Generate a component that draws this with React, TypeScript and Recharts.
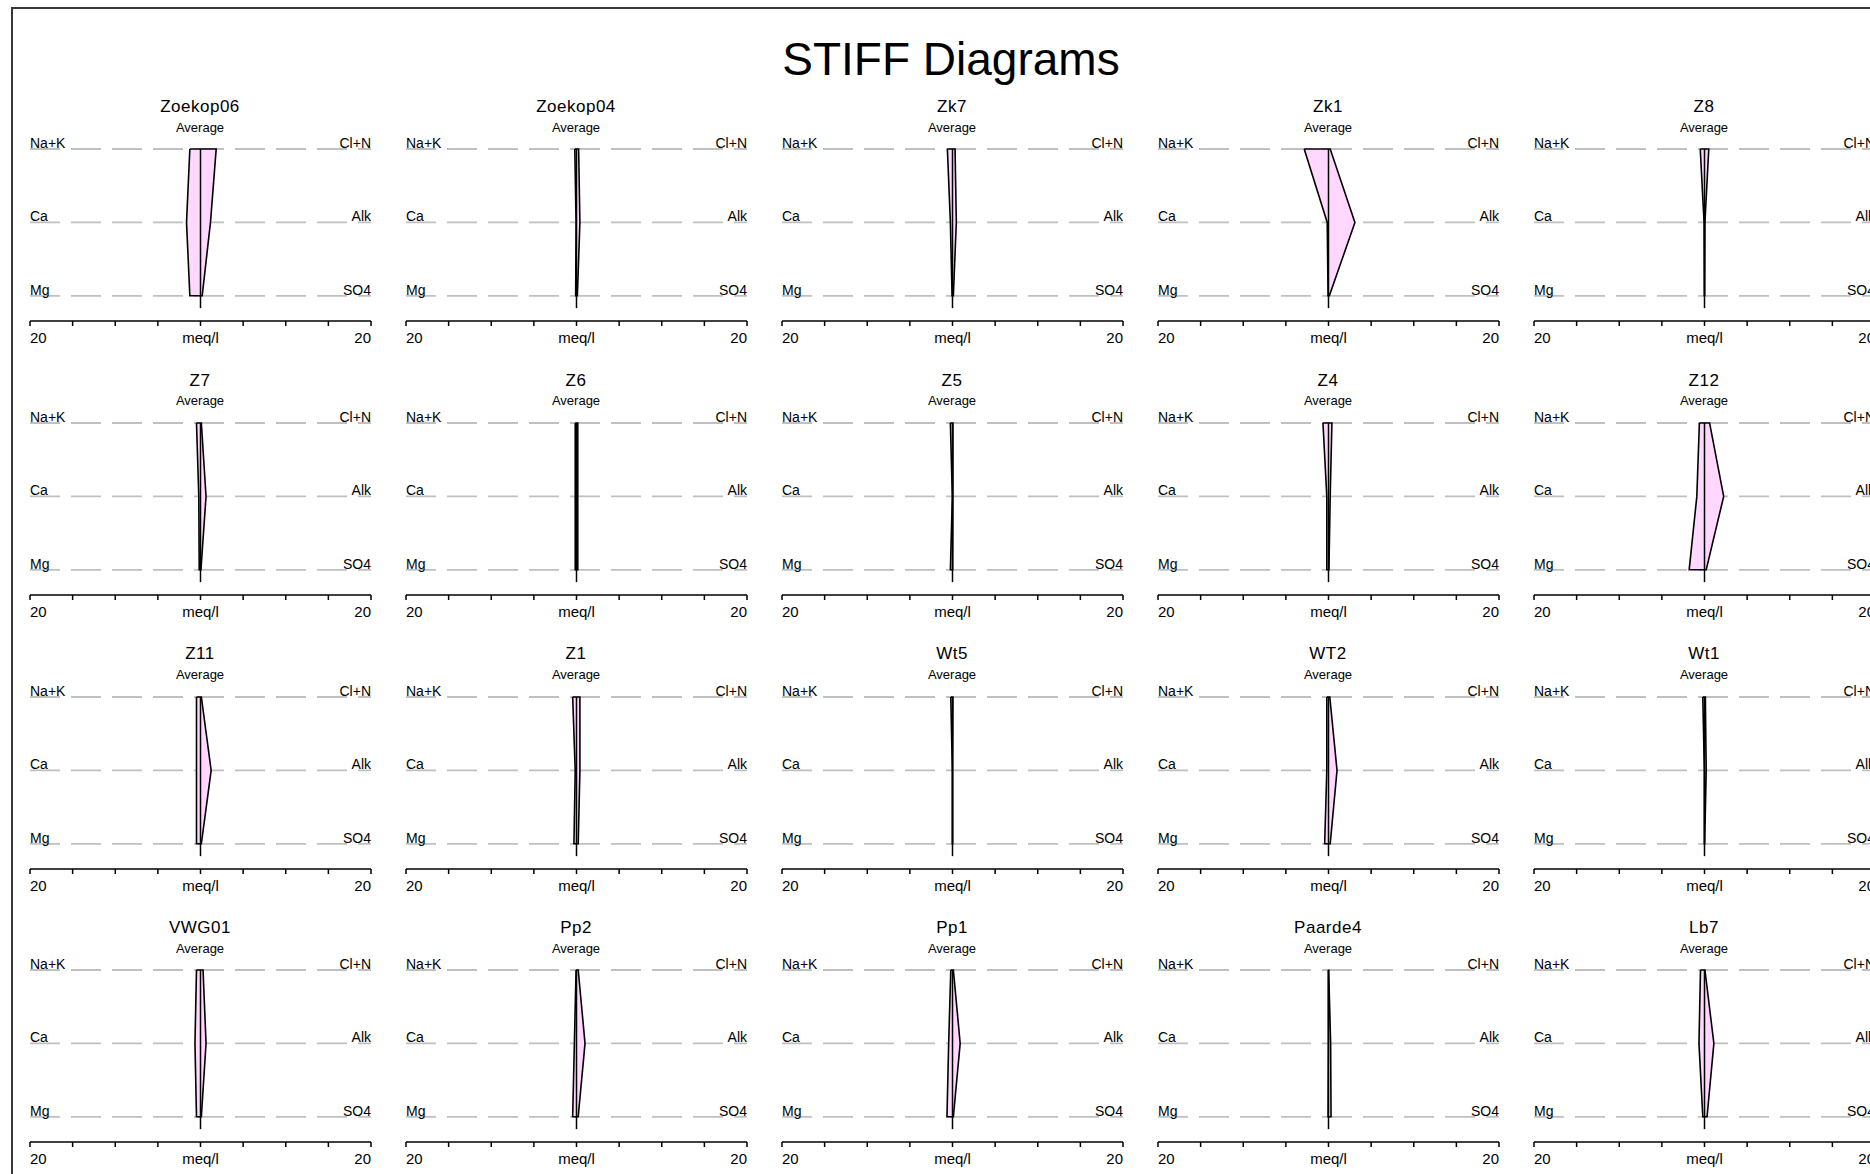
import React from 'react';
import { ComposedChart, Area, Line, XAxis, YAxis, CartesianGrid } from 'recharts';

// ---------- data ----------
const chartTitle = 'STIFF Diagrams';
const subtitle = 'Average';
const sampleNames = [
  'Zoekop06', 'Zoekop04', 'Zk7', 'Zk1', 'Z8',
  'Z7', 'Z6', 'Z5', 'Z4', 'Z12',
  'Z11', 'Z1', 'Wt5', 'WT2', 'Wt1',
  'VWG01', 'Pp2', 'Pp1', 'Paarde4', 'Lb7',
];
// cations (meq/l), drawn to the left
const naK = [1.25, 0.2, 0.6, 2.85, 0.5, 0.47, 0.15, 0.25, 0.65, 0.6, 0.47, 0.45, 0.2, 0.2, 0.2, 0.47, 0.05, 0.2, 0.02, 0.47];
const ca = [1.64, 0.05, 0.25, 0.15, 0.05, 0.2, 0.15, 0.02, 0.2, 0.9, 0.47, 0.15, 0.02, 0.2, 0.02, 0.65, 0.25, 0.45, 0.02, 0.65];
const mg = [1.25, 0.1, 0.05, 0.05, 0.02, 0.15, 0.15, 0.25, 0.2, 1.8, 0.47, 0.3, 0.02, 0.45, 0.02, 0.47, 0.45, 0.65, 0.05, 0.2];
// anions (meq/l), drawn to the right
const cl = [1.84, 0.25, 0.3, 0.2, 0.5, 0.1, 0.15, 0.05, 0.4, 0.6, 0.1, 0.4, 0.05, 0.15, 0.1, 0.3, 0.2, 0.1, 0.02, 0.05];
const alk = [1.17, 0.4, 0.45, 3.1, 0.05, 0.65, 0.15, 0.05, 0.2, 2.25, 1.25, 0.4, 0.02, 1.0, 0.2, 0.65, 1.0, 0.9, 0.25, 1.1];
const so4 = [0.2, 0.1, 0.1, 0.1, 0.02, 0.05, 0.15, 0.02, 0.05, 0.2, 0.1, 0.2, 0.02, 0.2, 0.02, 0.1, 0.2, 0.1, 0.3, 0.3];

const cationLabels = ['Na+K', 'Ca', 'Mg'];
const anionLabels = ['Cl+N', 'Alk', 'SO4'];
const rowValues = [0, 1, 2];
const axisTicks = [-20, -15, -10, -5, 0, 5, 10, 15, 20];
const axisLabelValues = [-20, 0, 20];
const axisLabelTexts = ['20', 'meq/l', '20'];
const centerLineEnd = 2.168;

// ---------- layout ----------
const FONT = '"Liberation Sans", Arial, Helvetica, sans-serif';
const COLS = 5;
const COL0 = 200;
const COL_STEP = 376;
const ROW0 = 149.3;
const ROW_STEP = 273.6;
const HALF_W = 170.5;
const ML = 12;
const MT = 24;
const PLOT_H = 172;
const XAXIS_H = 32;
const YAXIS_W = 1;
const CHART_W = 2 * HALF_W + 2 * ML;
const CHART_H = MT + PLOT_H + XAXIS_H;
const Y_MAX = PLOT_H / 73.4;
const PLOT_W = 2 * HALF_W;

function XTick(props: any) {
  const { x, y, payload } = props;
  const i = axisLabelValues.indexOf(payload.value);
  if (i < 0) return <g />;
  const anchor = i === 0 ? 'start' : i === axisLabelValues.length - 1 ? 'end' : 'middle';
  return (
    <text x={x} y={y + 14.5} textAnchor={anchor} fontSize={15} fill="#000" fontFamily={FONT}>
      {axisLabelTexts[i]}
    </text>
  );
}

function YTick(props: any) {
  const { x, y, payload } = props;
  const i = rowValues.indexOf(payload.value);
  if (i < 0) return <g />;
  return (
    <g>
      <text x={x} y={y - 1} textAnchor="start" fontSize={14} fill="#000" fontFamily={FONT}>
        {cationLabels[i]}
      </text>
      <text x={x + PLOT_W} y={y - 1} textAnchor="end" fontSize={14} fill="#000" fontFamily={FONT}>
        {anionLabels[i]}
      </text>
    </g>
  );
}

function StiffPanel({ idx }: { idx: number }) {
  const cations = [naK[idx], ca[idx], mg[idx]];
  const anions = [cl[idx], alk[idx], so4[idx]];
  const areaData = rowValues.map((r, k) => ({ row: r, v: [-cations[k], anions[k]] }));
  const outline = [
    ...rowValues.map((r, k) => ({ row: r, x: -cations[k] })),
    ...[...rowValues].reverse().map((r) => ({ row: r, x: anions[r] })),
    { row: rowValues[0], x: -cations[0] },
  ];
  const centerData = [
    { row: rowValues[0], x: 0 },
    { row: centerLineEnd, x: 0 },
  ];
  const c = idx % COLS;
  const r = Math.floor(idx / COLS);
  const cx = COL0 + c * COL_STEP;
  const y0 = ROW0 + r * ROW_STEP;
  return (
    <>
      <div
        style={{
          position: 'absolute', left: cx - 100, width: 200, top: Math.round(y0 - 51.4),
          textAlign: 'center', fontSize: 17, lineHeight: '17px', letterSpacing: 0.5, fontFamily: FONT, color: '#000',
        }}
      >
        {sampleNames[idx]}
      </div>
      <div
        style={{
          position: 'absolute', left: cx - 100, width: 200, top: Math.round(y0 - 28.6),
          textAlign: 'center', fontSize: 13, lineHeight: '13px', fontFamily: FONT, color: '#000',
        }}
      >
        {subtitle}
      </div>
      <div style={{ position: 'absolute', left: Math.round(cx - HALF_W - ML), top: Math.round(y0 - MT) }}>
        <ComposedChart
          layout="vertical"
          width={CHART_W}
          height={CHART_H}
          margin={{ top: MT, right: ML, bottom: 0, left: ML - YAXIS_W }}
        >
          <CartesianGrid
            horizontal
            vertical={false}
            stroke="#c0c0c0"
            strokeWidth={1.8}
            strokeDasharray="30 11"
            syncWithTicks
          />
          <XAxis
            type="number"
            domain={[-20, 20]}
            ticks={axisTicks}
            interval={0}
            height={XAXIS_H}
            axisLine={{ stroke: '#000', strokeWidth: 1.5 }}
            tickLine={{ stroke: '#000', strokeWidth: 1.5 }}
            tickSize={5}
            tickMargin={2}
            tick={(p: any) => <XTick {...p} />}
          />
          <YAxis
            type="number"
            dataKey="row"
            domain={[0, Y_MAX]}
            ticks={rowValues}
            interval={0}
            width={YAXIS_W}
            axisLine={false}
            tickLine={false}
            tickSize={0}
            tickMargin={0}
            tick={(p: any) => <YTick {...p} />}
          />
          <Area
            data={areaData}
            dataKey="v"
            type="linear"
            stroke="none"
            fill="#ffd7ff"
            fillOpacity={1}
            isAnimationActive={false}
          />
          <Line
            data={outline}
            dataKey="x"
            type="linear"
            stroke="#000"
            strokeWidth={1.6}
            dot={false}
            activeDot={false}
            isAnimationActive={false}
          />
          <Line
            data={centerData}
            dataKey="x"
            type="linear"
            stroke="#000"
            strokeWidth={1.5}
            dot={false}
            activeDot={false}
            isAnimationActive={false}
          />
        </ComposedChart>
      </div>
    </>
  );
}

export default function App() {
  return (
    <div
      style={{
        position: 'absolute', left: 0, top: 0, width: 1870, height: 1174,
        overflow: 'hidden', background: '#fff', fontFamily: FONT,
      }}
    >
      <div
        style={{
          position: 'absolute', left: 11, top: 7, width: 1900, height: 1200,
          borderLeft: '2px solid #383838', borderTop: '2px solid #383838',
        }}
      />
      <div
        style={{
          position: 'absolute', left: 651, width: 600, top: 36, textAlign: 'center',
          fontSize: 46, lineHeight: '46px', color: '#000', fontFamily: FONT,
        }}
      >
        {chartTitle}
      </div>
      {sampleNames.map((_, i) => (
        <StiffPanel key={i} idx={i} />
      ))}
    </div>
  );
}
